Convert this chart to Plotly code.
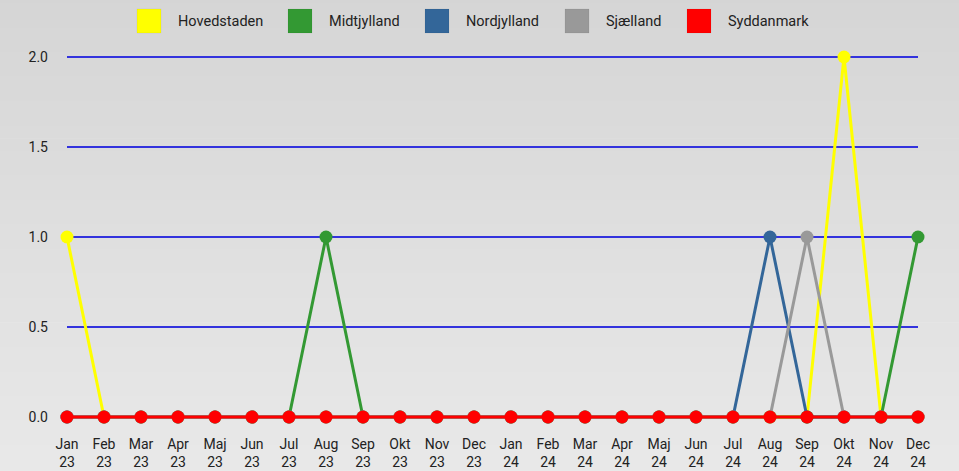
import plotly.graph_objects as go

months = ["Jan", "Feb", "Mar", "Apr", "Maj", "Jun", "Jul", "Aug", "Sep", "Okt", "Nov", "Dec"]
years = ["23", "24"]
categories = [f"{m}<br>{y}" for y in years for m in months]

series_names = ["Hovedstaden", "Midtjylland", "Nordjylland", "Sjælland", "Syddanmark"]
hovedstaden = [1, 0, 0, 0, 0, 0, 0, 0, 0, 0, 0, 0, 0, 0, 0, 0, 0, 0, 0, 0, 0, 2, 0, 0]
midtjylland = [0, 0, 0, 0, 0, 0, 0, 1, 0, 0, 0, 0, 0, 0, 0, 0, 0, 0, 0, 0, 0, 0, 0, 1]
nordjylland = [0, 0, 0, 0, 0, 0, 0, 0, 0, 0, 0, 0, 0, 0, 0, 0, 0, 0, 0, 1, 0, 0, 0, 0]
sjaelland = [0, 0, 0, 0, 0, 0, 0, 0, 0, 0, 0, 0, 0, 0, 0, 0, 0, 0, 0, 0, 1, 0, 0, 0]
syddanmark = [0] * 24
colors = ["#ffff00", "#339933", "#336699", "#999999", "#ff0000"]
y_ticks = [0, 0.5, 1.0, 1.5, 2.0]

values = [hovedstaden, midtjylland, nordjylland, sjaelland, syddanmark]
x_idx = list(range(len(categories)))

fig = go.Figure()
for name, vals, col in zip(series_names, values, colors):
    fig.add_trace(go.Scatter(
        x=x_idx, y=vals, name=name, mode="lines+markers",
        line=dict(color=col, width=3), marker=dict(color=col, size=13),
        cliponaxis=False, showlegend=False,
    ))

W, H = 959, 471
ml, mr, mt, mb = 67, 41, 53, 50
pw, ph = W - ml - mr, H - mt - mb
pad = 1 / 45

# gradient background
shapes = []
n = 48
top = (213, 213, 213)
bot = (236, 236, 236)
for i in range(n):
    t = i / (n - 1)
    c = tuple(round(top[k] + (bot[k] - top[k]) * t) for k in range(3))
    shapes.append(dict(type="rect", xref="paper", yref="paper",
                       x0=-0.2, x1=1.2,
                       y0=1.2 - (i + 1) * 1.6 / n, y1=1.2 - i * 1.6 / n + 0.002,
                       fillcolor=f"rgb{c}", line=dict(width=0), layer="below"))

# custom legend
annotations = []
sw_x = [137, 288, 425, 565, 687]
for name, col, sx in zip(series_names, colors, sw_x):
    x0 = (sx - ml) / pw
    x1 = (sx + 24 - ml) / pw
    y0 = (H - mb - 33) / ph
    y1 = (H - mb - 9) / ph
    shapes.append(dict(type="rect", xref="paper", yref="paper", x0=x0, x1=x1, y0=y0, y1=y1,
                       fillcolor=col, line=dict(width=0.5, color="rgba(0,0,0,0.1)")))
    annotations.append(dict(xref="paper", yref="paper", x=(sx + 39 - ml) / pw, y=(H - mb - 21) / ph,
                            text=name, showarrow=False, xanchor="left", yanchor="middle",
                            font=dict(size=14.5, color="#222222", family="Roboto")))

fig.update_layout(
    width=W, height=H,
    margin=dict(l=ml, r=mr, t=mt, b=mb),
    paper_bgcolor="rgba(0,0,0,0)", plot_bgcolor="rgba(0,0,0,0)",
    shapes=shapes, annotations=annotations,
    font=dict(family="Roboto", size=14.5, color="#222222"),
    xaxis=dict(range=[0, 23], tickmode="array", tickvals=x_idx, ticktext=categories,
               showgrid=False, zeroline=False, showline=False, tickangle=0, automargin=False,
               ticks="outside", ticklen=10, tickcolor="rgba(0,0,0,0)", tickfont=dict(size=14)),
    yaxis=dict(range=[-pad, 2 + pad], tickmode="array", tickvals=y_ticks,
               ticktext=[f"{v:.1f}" for v in y_ticks], automargin=False,
               showgrid=True, gridcolor="#3333dd", gridwidth=1.5, zeroline=False,
               showline=False, ticklabelstandoff=18, tickfont=dict(size=14)),
)
fig.write_html("out.html", config={"displayModeBar": False},
               post_script="document.body.style.margin='0';")
